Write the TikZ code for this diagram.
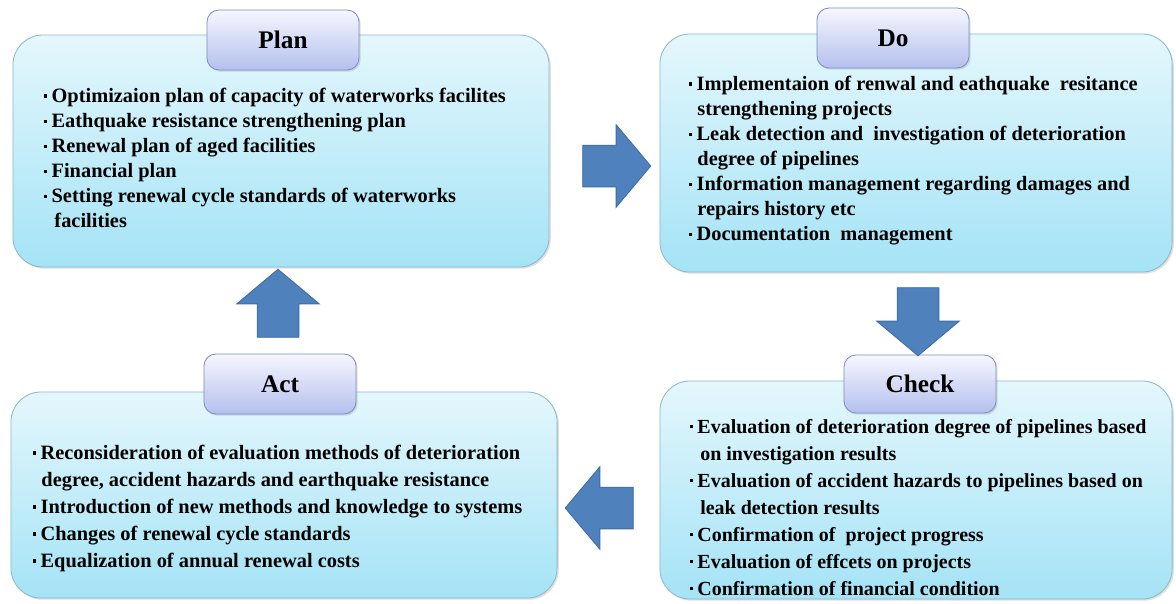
\documentclass[tikz,border=0pt]{standalone}
\usepackage{fontspec}
\setmainfont{Liberation Serif}[BoldFont={Liberation Serif Bold}]
\usetikzlibrary{positioning,shapes.arrows,shadows}

\definecolor{boxtop}{HTML}{E4F7FC}
\definecolor{boxbot}{HTML}{A4E3F6}
\definecolor{boxline}{HTML}{8DB9C9}
\definecolor{tabtop}{HTML}{F6F7FE}
\definecolor{tabbot}{HTML}{B4C0EE}
\definecolor{tabline}{HTML}{7E8EC4}
\definecolor{arrowfill}{HTML}{4F81BD}
\definecolor{arrowline}{HTML}{3D6BA5}

% small square bullet of the lists
\newcommand{\bul}{\makebox[0.36em][l]{\raisebox{0.25em}{\rule{0.15em}{0.15em}}}}
\newcommand{\cont}[1][0.5em]{\hspace*{#1}}

\tikzset{
  phasebox/.style={draw=boxline, line width=0.6pt, rounded corners=0.75cm,
    top color=boxtop, bottom color=boxbot,
    drop shadow={opacity=0.25, shadow xshift=1.2pt, shadow yshift=-1.2pt}},
  phasetab/.style={draw=tabline, line width=0.6pt, rounded corners=0.3cm,
    top color=tabtop, bottom color=tabbot, minimum width=3.8cm, minimum height=1.5cm,
    font=\bfseries\fontsize{18}{20}\selectfont,
    drop shadow={opacity=0.25, shadow xshift=1.2pt, shadow yshift=-1.2pt}},
  phasetext/.style={anchor=north west, align=left, inner sep=0pt,
    font=\bfseries\fontsize{14.5}{17.8}\selectfont},
  blockarrow/.style={single arrow, draw=arrowline, fill=arrowfill, line width=0.6pt,
    inner xsep=0pt, inner ysep=0.51cm, minimum height=1.7cm,
    single arrow head extend=0.51cm, single arrow tip angle=100}
}

\begin{document}
\begin{tikzpicture}[x=0.025cm, y=-0.025cm]
  \useasboundingbox[fill=white] (0,0) rectangle (1176,604);

  % the four phases
  \node[phasebox, minimum width=13.4cm, minimum height=5.8cm] (plan) at (281,151) {};
  \node[phasebox, minimum width=12.8cm, minimum height=5.95cm] (do) at (916,153) {};
  \node[phasebox, minimum width=12.8cm, minimum height=5.45cm] (check) at (916,490) {};
  \node[phasebox, minimum width=13.65cm, minimum height=5.15cm] (act) at (284,495) {};

  \node[phasetab] (plantab) at (283,40) {Plan};
  \node[phasetab] (dotab) at (893,38) {Do};
  \node[phasetab, minimum height=1.45cm] (checktab) at (920,384) {Check};
  \node[phasetab] (acttab) at (280,384) {Act};

  \node[phasetext] (plantext) at (44,88) {%
    \bul Optimizaion plan of capacity of waterworks facilites\\
    \bul Eathquake resistance strengthening plan\\
    \bul Renewal plan of aged facilities\\
    \bul Financial plan\\
    \bul Setting renewal cycle standards of waterworks\\
    \cont facilities};
  \node[phasetext] (dotext) at (689,76) {%
    \bul Implementaion of renwal and eathquake \ resitance\\
    \cont[0.15em] strengthening projects\\
    \bul Leak detection and \ investigation of deterioration\\
    \cont[0.15em] degree of pipelines\\
    \bul Information management regarding damages and\\
    \cont[0.15em] repairs history etc\\
    \bul Documentation \ management};
  \node[phasetext, font=\bfseries\fontsize{14.2}{19.2}\selectfont] (checktext) at (690,419) {%
    \bul Evaluation of deterioration degree of pipelines based\\
    \cont on investigation results\\
    \bul Evaluation of accident hazards to pipelines based on\\
    \cont leak detection results\\
    \bul Confirmation of \ project progress\\
    \bul Evaluation of effcets on projects\\
    \bul Confirmation of financial condition};
  \node[phasetext, font=\bfseries\fontsize{14.5}{19.2}\selectfont] (acttext) at (33,445) {%
    \bul Reconsideration of evaluation methods of deterioration\\
    \cont[0.15em] degree, accident hazards and earthquake resistance\\
    \bul Introduction of new methods and knowledge to systems\\
    \bul Changes of renewal cycle standards\\
    \bul Equalization of annual renewal costs};

  % block arrows of the cycle
  \node[blockarrow] (plando) at (608,166) {};
  \node[blockarrow, rotate=-90] (docheck) at (918,313) {};
  \node[blockarrow, rotate=180] (checkact) at (608,508) {};
  \node[blockarrow, rotate=90] (actplan) at (278,312) {};
\end{tikzpicture}
\end{document}
